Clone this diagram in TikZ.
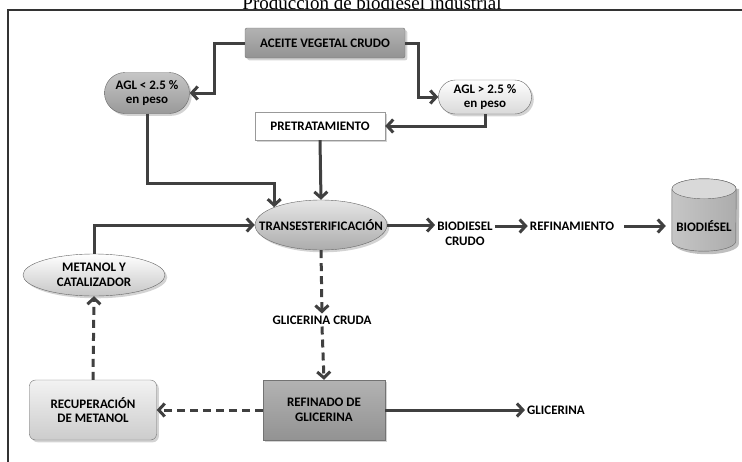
\documentclass[tikz,border=0pt]{standalone}
\usepackage{fontspec}
\setmainfont{Liberation Serif}
\newfontfamily\diagfont{Carlito}
\usetikzlibrary{positioning}
\usetikzlibrary{shadows}
\usetikzlibrary{arrows.meta}
\usetikzlibrary{backgrounds}
\usetikzlibrary{shapes.geometric,shapes.misc}
\tikzset{%
  darkbox/.style={rectangle, draw=black!55, top color=gray!60, bottom color=gray!85, thin, align=center, drop shadow={opacity=.35}},
  lightbox/.style={rectangle, rounded corners=6pt, draw=black!55, top color=gray!10, bottom color=gray!40, thin, align=center, drop shadow={opacity=.35}},
  plainbox/.style={rectangle, draw=black!40, fill=white, thin, align=center, drop shadow={opacity=.35}},
  pill/.style={rounded rectangle, draw=black!60, thin, align=center, drop shadow={opacity=.35}},
  process/.style={ellipse, draw=black!60, thin, align=center, inner sep=0pt, drop shadow={opacity=.35}},
  label/.style={align=center, inner sep=2pt},
  tank/.style={rectangle, inner sep=0pt},
  tankbody/.style={draw=black!60, thin, left color=gray!45, right color=gray!65},
  tanktop/.style={draw=black!60, thin, fill=gray!30},
  flow/.style={draw=black!75, line width=3pt, -{Straight Barb[length=6pt,width=13pt]}},
  byflow/.style={flow, dash pattern=on 8pt off 5pt}
}

\begin{document}
\begin{tikzpicture}[x=1pt,y=-1pt, font=\diagfont\bfseries\fontsize{13}{14.5}\selectfont]
    \useasboundingbox (0,0) rectangle (742,461);
    %Frame and title
    \node[font=\fontsize{19}{20}\selectfont, anchor=base] (title) at (372,9) {Producción de biodiesel industrial};
    \draw[black!80, line width=1.3pt] (8,475) -- (8,10) -- (760,10);

    %Nodes
    \node[darkbox, rounded corners=2pt, minimum width=160pt, minimum height=30pt] (aceite) at (325,43) {ACEITE VEGETAL CRUDO};
    \node[pill, top color=gray!45, bottom color=gray!80, minimum width=87pt, minimum height=41pt, inner sep=1pt] (aglmenor) at (147,93) {AGL < 2.5 \%\\en peso};
    \node[pill, top color=white, bottom color=gray!30, minimum width=95pt, minimum height=34pt, inner sep=1pt] (aglmayor) at (485,97) {AGL > 2.5 \%\\en peso};
    \node[plainbox, minimum width=130pt, minimum height=28pt] (pretrat) at (320,126) {PRETRATAMIENTO};
    \node[process, top color=gray!20, bottom color=gray!65, minimum width=132pt, minimum height=50pt] (trans) at (321,225) {\makebox[0pt]{TRANSESTERIFICACIÓN}};
    \node[label] (biocrudo) at (465,234) {BIODIESEL\\CRUDO};
    \node[label] (refin) at (572,226) {REFINAMIENTO};
    \node[tank, minimum width=64pt, minimum height=56pt] (biodiesel) at (704,226) {\makebox[0pt]{BIODIÉSEL}};
    \node[process, top color=white, bottom color=gray!45, minimum width=142pt, minimum height=42pt] (metanol) at (94,275) {METANOL Y\\CATALIZADOR};
    \node[label] (glicruda) at (322,320) {GLICERINA CRUDA};
    \node[darkbox, minimum width=122pt, minimum height=60pt] (refinado) at (324,410) {REFINADO DE\\GLICERINA};
    \node[lightbox, minimum width=127pt, minimum height=60pt] (recup) at (93,410) {RECUPERACIÓN\\DE METANOL};
    \node[label] (glicerina) at (556,410) {GLICERINA};

    %Tank
    \begin{scope}[on background layer]
      \fill[black!25] ([xshift=3pt,yshift=9pt]biodiesel.north west) -- ([xshift=3pt,yshift=10pt]biodiesel.south west)
        arc[start angle=180, end angle=360, x radius=32pt, y radius=10pt] -- ([xshift=3pt,yshift=9pt]biodiesel.north east) -- cycle;
      \path[tankbody] ([yshift=9pt]biodiesel.north west) -- ([yshift=13pt]biodiesel.south west)
        arc[start angle=180, end angle=360, x radius=32pt, y radius=10pt] -- ([yshift=9pt]biodiesel.north east)
        arc[start angle=0, end angle=180, x radius=32pt, y radius=10pt] -- cycle;
      \path[tanktop] ([yshift=9pt]biodiesel.north) ellipse[x radius=32pt, y radius=10pt];
    \end{scope}

    %Lines
    \draw[flow] (aceite.west) -- ++(-30,0) |- (aglmenor.east);
    \draw[flow] (aceite.east) -- ++(13,0) |- (aglmayor.west);
    \draw[flow] (aglmayor.south) |- (pretrat.east);
    \draw[flow] (aglmenor.south) -- ++(0,70) -| (trans.north west);
    \draw[flow] (pretrat.south) -- (trans.north);
    \draw[flow] (metanol.north) |- (trans.west);
    \draw[flow] (trans.east) -- (trans.east -| biocrudo.west);
    \draw[flow] (refin.west -| biocrudo.east) -- (refin.west);
    \draw[flow] (refin.east) ++(8,0) -- ([xshift=-6pt]biodiesel.west);
    \draw[byflow] (trans.south) -- (glicruda.north);
    \draw[byflow] (glicruda.south) -- (refinado.north);
    \draw[byflow] (refinado.west) -- (recup.east);
    \draw[byflow] (recup.north) -- (metanol.south);
    \draw[flow] (refinado.east) -- (glicerina.west);
\end{tikzpicture}
\end{document}
